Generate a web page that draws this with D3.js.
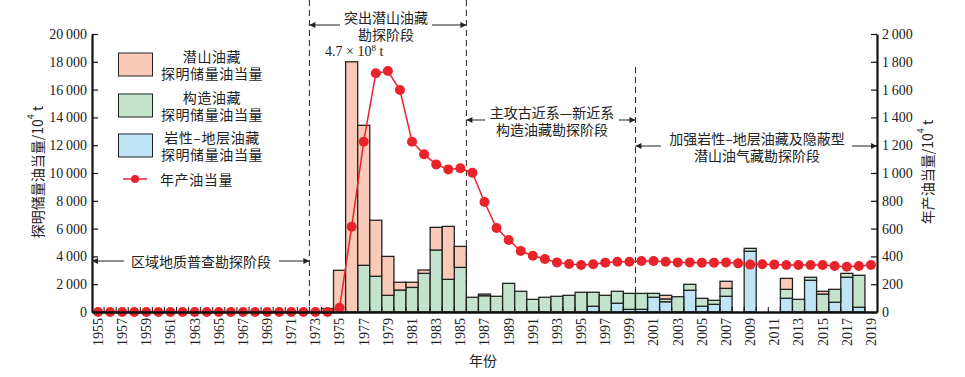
<!DOCTYPE html>
<html>
<head>
<meta charset="utf-8">
<script src="https://cdn.jsdelivr.net/npm/d3@7"></script>
<style>
  body { margin: 0; background: #fff; }
  .cn { font-family: "Noto Sans CJK SC", sans-serif; font-size: 14px; fill: #222; }
  .num { font-family: "Liberation Serif", "Times New Roman", serif; font-size: 14px; fill: #222; }
</style>
</head>
<body>
<div id="chart"></div>
<script>
// years 1955 - 2019
var years = d3.range(1955, 2020);

// 探明储量 (10^4 t), one value per year, 1955..2019
var qianshan = [0,0,0,0,0, 0,0,0,0,0, 0,0,0,0,0, 0,0,0,0,250,
  3000,18000,10070,4030,2800, 560,370,240,1630,3810, 1510,0,120,0,0,
  0,0,0,0,0, 0,0,0,0,0, 0,0,260,0,0, 0,0,510,0,0, 0,0,790,0,0, 200,0,0,0,0];
var gouzao = [0,0,0,0,0, 0,0,0,0,0, 0,0,0,0,0, 0,0,0,0,0,
  0,0,3360,2570,1200, 1580,1770,2780,4460,2350, 3210,1060,1170,1130,2060,
  1490,910,1060,1130,1200, 1420,1010,1200,860,1150, 1150,280,200,1100,430,
  575,290,570,0,210, 0,0,645,910,220, 1290,930,280,2300,0];
var yanxing = [0,0,0,0,0, 0,0,0,0,0, 0,0,0,0,0, 0,0,0,0,0,
  0,0,0,0,0, 0,0,0,0,0, 0,0,0,0,0,
  0,0,0,0,0, 0,410,0,630,190, 190,1060,740,0,1560,
  410,550,1130,0,4370, 0,0,985,0,2280, 0,700,2500,340,0];
// 年产油当量 (10^4 t)
var production = [0,0,0,0,0, 0,0,0,0,0, 0,0,0,0,0, 0,0,0,0,0,
  30,613,1225,1717,1734, 1597,1225,1134,1062,1026, 1034,1002,791,604,518,
  439,405,381,357,345, 338,343,355,362,362, 367,367,362,357,357,
  355,355,357,350,341, 343,341,338,338,338, 338,331,326,331,338];

var leftTicks = d3.range(0, 20001, 2000);
var rightTicks = d3.range(0, 2001, 200);

var width = 965, height = 377;
var x0 = 92, x1 = 877, yTop = 34, yBottom = 312;

var svg = d3.select("#chart").append("svg")
  .attr("width", width)
  .attr("height", height);

var fmt = d3.formatLocale({decimal: ".", thousands: "\u2009", grouping: [3], currency: ["", ""]}).format(",");

var x = d3.scaleBand().domain(years).range([x0, x1]).padding(0);
var y = d3.scaleLinear().domain([0, 20000]).range([yBottom, yTop]);
var y2 = d3.scaleLinear().domain([0, 2000]).range([yBottom, yTop]);

var colors = {yanxing: "#bfe4f6", gouzao: "#c3e3cd", qianshan: "#f9cab7"};

// table for stacking
var table = years.map(function(yr, i) {
  return {year: yr, yanxing: yanxing[i], gouzao: gouzao[i], qianshan: qianshan[i]};
});
var stack = d3.stack().keys(["yanxing", "gouzao", "qianshan"]);
var series = stack(table);

// bars
svg.append("g").selectAll("g")
  .data(series)
  .enter().append("g")
    .attr("fill", function(d) { return colors[d.key]; })
  .selectAll("rect")
  .data(function(d) { return d.filter(function(e) { return e[1] - e[0] > 0; }); })
  .enter().append("rect")
    .attr("x", function(d) { return x(d.data.year); })
    .attr("width", x.bandwidth())
    .attr("y", function(d) { return y(d[1]); })
    .attr("height", function(d) { return y(d[0]) - y(d[1]); })
    .attr("stroke", "#222")
    .attr("stroke-width", 1.3);

// dashed stage lines
var dashes = [
  {x: x(1973), top: 0},
  {x: x(1986), top: 0},
  {x: x(2000), top: 67}
];
svg.append("g").selectAll("line")
  .data(dashes)
  .enter().append("line")
    .attr("x1", function(d) { return d.x; })
    .attr("x2", function(d) { return d.x; })
    .attr("y1", function(d) { return d.top; })
    .attr("y2", yBottom)
    .attr("stroke", "#222")
    .attr("stroke-width", 1)
    .attr("stroke-dasharray", "6,4");

// production line
var line = d3.line()
  .x(function(d, i) { return x(years[i]) + x.bandwidth() / 2; })
  .y(function(d) { return y2(d); });

svg.append("path")
  .datum(production)
  .attr("d", line)
  .attr("fill", "none")
  .attr("stroke", "#e8232b")
  .attr("stroke-width", 1.5);

svg.append("g").selectAll("circle")
  .data(production)
  .enter().append("circle")
    .attr("cx", function(d, i) { return x(years[i]) + x.bandwidth() / 2; })
    .attr("cy", function(d) { return y2(d); })
    .attr("r", 5)
    .attr("fill", "#e8232b");

// axes
var leftAxis = svg.append("g")
  .attr("transform", "translate(" + x0 + ",0)")
  .call(d3.axisLeft(y).tickValues(leftTicks).tickFormat(fmt).tickSizeInner(-6).tickSizeOuter(0).tickPadding(5));
var rightAxis = svg.append("g")
  .attr("transform", "translate(" + x1 + ",0)")
  .call(d3.axisRight(y2).tickValues(rightTicks).tickFormat(fmt).tickSizeInner(-6).tickSizeOuter(0).tickPadding(5));

[leftAxis, rightAxis].forEach(function(a) {
  a.select(".domain").attr("stroke", "#111").attr("stroke-width", 2.2);
  a.selectAll(".tick line").attr("stroke", "#111").attr("stroke-width", 1.2);
  a.selectAll("text").attr("class", "num").attr("font-family", null).attr("font-size", null);
});

var xAxis = svg.append("g")
  .attr("transform", "translate(0," + yBottom + ")")
  .call(d3.axisBottom(x).tickValues(years.filter(function(d) { return d % 2 === 1; })).tickSize(0).tickPadding(0));
xAxis.select(".domain").attr("stroke", "#111").attr("stroke-width", 2.6);
xAxis.selectAll("text")
  .attr("class", "num")
  .attr("font-family", null).attr("font-size", null)
  .attr("transform", "rotate(-90)")
  .attr("x", -6)
  .attr("y", 0)
  .attr("dy", "0.35em")
  .style("text-anchor", "end");

// year boundary ticks (inside)
xAxis.append("g").selectAll("line")
  .data(years.slice(1))
  .enter().append("line")
    .attr("x1", function(d) { return x(d); })
    .attr("x2", function(d) { return x(d); })
    .attr("y1", 0)
    .attr("y2", -5)
    .attr("stroke", "#111")
    .attr("stroke-width", 1);

// axis titles
svg.append("text")
  .attr("class", "cn")
  .attr("transform", "translate(37,172) rotate(-90)")
  .attr("text-anchor", "middle")
  .attr("dominant-baseline", "central")
  .text("探明储量油当量/10")
  .append("tspan").attr("baseline-shift", "super").style("font-size", "9px").text("4")
  .select(function() { return this.parentNode; })
  .append("tspan").text(" t");

svg.append("text")
  .attr("class", "cn")
  .attr("transform", "translate(927,172) rotate(-90)")
  .attr("text-anchor", "middle")
  .attr("dominant-baseline", "central")
  .text("年产油当量/10")
  .append("tspan").attr("baseline-shift", "super").style("font-size", "9px").text("4")
  .select(function() { return this.parentNode; })
  .append("tspan").text(" t");

svg.append("text")
  .attr("class", "cn")
  .attr("x", 483)
  .attr("y", 360)
  .attr("text-anchor", "middle")
  .attr("dominant-baseline", "central")
  .text("年份");

// legend
var legendItems = [
  {key: "qianshan", l1: "潜山油藏", l2: "探明储量油当量", y: 53},
  {key: "gouzao", l1: "构造油藏", l2: "探明储量油当量", y: 94},
  {key: "yanxing", l1: "岩性–地层油藏", l2: "探明储量油当量", y: 134}
];
var lg = svg.append("g");
legendItems.forEach(function(d) {
  lg.append("rect")
    .attr("x", 118.5).attr("y", d.y)
    .attr("width", 34).attr("height", 23)
    .attr("fill", colors[d.key])
    .attr("stroke", "#222").attr("stroke-width", 1);
  lg.append("text").attr("class", "cn")
    .attr("x", 212).attr("y", d.y + 3)
    .attr("text-anchor", "middle").attr("dominant-baseline", "central")
    .style("letter-spacing", "0.6px")
    .text(d.l1);
  lg.append("text").attr("class", "cn")
    .attr("x", 212).attr("y", d.y + 20)
    .attr("text-anchor", "middle").attr("dominant-baseline", "central")
    .style("letter-spacing", "0.6px")
    .text(d.l2);
});
lg.append("line")
  .attr("x1", 123).attr("x2", 147).attr("y1", 179).attr("y2", 179)
  .attr("stroke", "#e8232b").attr("stroke-width", 1.5);
lg.append("circle")
  .attr("cx", 135).attr("cy", 179).attr("r", 4).attr("fill", "#e8232b");
lg.append("text").attr("class", "cn")
  .attr("x", 160).attr("y", 179)
  .attr("dominant-baseline", "central")
  .style("letter-spacing", "0.6px")
  .text("年产油当量");

// arrow marker
svg.append("defs").append("marker")
  .attr("id", "arr")
  .attr("viewBox", "0 0 10 10")
  .attr("refX", 10).attr("refY", 5)
  .attr("markerWidth", 9).attr("markerHeight", 6)
  .attr("markerUnits", "userSpaceOnUse")
  .attr("orient", "auto")
  .append("path").attr("d", "M0,0L10,5L0,10z").attr("fill", "#222");

function arrow(xa, xb, yy) {
  svg.append("line")
    .attr("x1", xa).attr("x2", xb).attr("y1", yy).attr("y2", yy)
    .attr("stroke", "#222").attr("stroke-width", 1)
    .attr("marker-end", "url(#arr)");
}

// stage annotations
var stages = [
  {lines: ["区域地质普查勘探阶段"], cx: 201, cy: 261, left: x0, right: x(1973), tl: 124, tr: 279},
  {lines: ["突出潜山油藏", "勘探阶段"], cx: 386, cy: 25, left: x(1973), right: x(1986), tl: 340, tr: 432},
  {lines: ["主攻古近系—新近系", "构造油藏勘探阶段"], cx: 552, cy: 120, left: x(1986), right: x(2000), tl: 485, tr: 619},
  {lines: ["加强岩性–地层油藏及隐蔽型", "潜山油气藏勘探阶段"], cx: 757, cy: 146, left: x(2000), right: x1, tl: 661, tr: 852}
];
stages.forEach(function(s) {
  var n = s.lines.length;
  s.lines.forEach(function(t, i) {
    svg.append("text").attr("class", "cn")
      .attr("x", s.cx)
      .attr("y", s.cy + (i - (n - 1) / 2) * 17)
      .attr("text-anchor", "middle")
      .attr("dominant-baseline", "central")
      .text(t);
  });
  arrow(s.tl, s.left, s.cy);
  arrow(s.tr, s.right, s.cy);
});

// peak note
var note = svg.append("text").attr("class", "num")
  .attr("x", 325).attr("y", 56);
note.append("tspan").text("4.7 × 10");
note.append("tspan").attr("baseline-shift", "super").style("font-size", "9px").text("8");
note.append("tspan").text(" t");
</script>
</body>
</html>
